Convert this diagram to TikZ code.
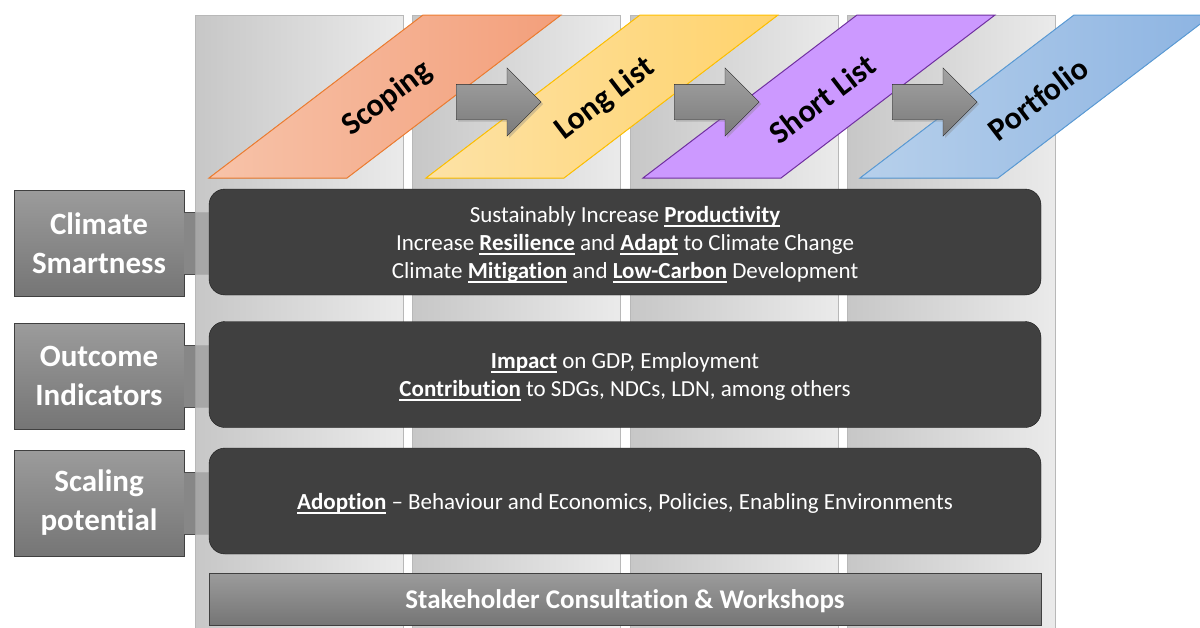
\documentclass[tikz,border=0pt]{standalone}
\usepackage{fontspec}
\setmainfont{Carlito}[Ligatures=NoCommon]
\usetikzlibrary{shapes.arrows,shadows}

\definecolor{boxdark}{HTML}{404040}
\definecolor{scopeline}{HTML}{ED7D31}
\definecolor{scopelight}{HTML}{F7C3A9}
\definecolor{scopedeep}{HTML}{F39F7B}
\definecolor{longline}{HTML}{FFC000}
\definecolor{longlight}{HTML}{FDE2A6}
\definecolor{longdeep}{HTML}{FFD36C}
\definecolor{shortline}{HTML}{7030A0}
\definecolor{shortfill}{HTML}{CC99FF}
\definecolor{portline}{HTML}{5B9BD5}
\definecolor{portlight}{HTML}{B7D0EB}
\definecolor{portdeep}{HTML}{8DB4E2}

% bold keyword with a heavy underline
\newsavebox\kwbox
\newcommand{\kw}[1]{\sbox\kwbox{\textbf{#1}}\rlap{\rule[-4.5pt]{\wd\kwbox}{1.6pt}}\usebox\kwbox}

\tikzset{
  linkbar/.style={line width=1pt, draw=black!70, double=black!47, double distance=61pt},
  stagelabel/.style={rotate=37.3, font=\bfseries\fontsize{32}{36}\selectfont, inner sep=0pt}
}

\begin{document}
\begin{tikzpicture}[x=1pt,y=-1pt]
    \useasboundingbox (0,0) rectangle (1200,627);
    \clip (0,0) rectangle (1200,627);
    % four phase columns
    \begin{scope}[every node/.style={draw=black!28, left color=black!22, right color=black!8,
        minimum width=208pt, minimum height=640pt, anchor=north west, inner sep=0pt}]
    \node (col1) at (195,15) {};
    \node (col2) at (412,15) {};
    \node (col3) at (630,15) {};
    \node (col4) at (847,15) {};
    \end{scope}
    % row labels
    \begin{scope}[every node/.style={draw=black!75, top color=black!39, bottom color=black!54,
        text=white, font=\bfseries\fontsize{31}{39}\selectfont, align=center,
        minimum width=170pt, minimum height=106pt, inner sep=0pt}]
    \node (cs) at (99,243) {Climate\\Smartness};
    \node (oi) at (99,376) {Outcome\\Indicators};
    \node (sp) at (99,503) {Scaling\\potential};
    \end{scope}
    % row contents
    \begin{scope}[every node/.style={rounded corners=16pt, draw=black!90, fill=boxdark,
        text=white, font=\fontsize{23}{28}\selectfont, align=center, text depth=0pt,
        minimum width=832pt, minimum height=106pt, inner sep=0pt}]
    \node (csbox) at (625,242) {Sustainably Increase \kw{Productivity}\\
        Increase \kw{Resilience} and \kw{Adapt} to Climate Change\\
        Climate \kw{Mitigation} and \kw{Low-Carbon} Development};
    \node (oibox) at (625,374.5) {\kw{Impact} on GDP, Employment\\
        \kw{Contribution} to SDGs, NDCs, LDN, among others};
    \node (spbox) at (625,501) {\kw{Adoption} -- Behaviour and Economics, Policies, Enabling Environments};
    \end{scope}
    \node[draw=black!75, top color=black!39, bottom color=black!54, minimum width=832pt,
        minimum height=52pt, inner sep=0pt, text=white, text depth=0pt,
        font=\bfseries\fontsize{27}{30}\selectfont] (stake) at (625,599) {Stakeholder Consultation \& Workshops};
    % links from labels to rows
    \draw[linkbar] (cs.east) -- (cs.east -| col1.west);
    \draw[linkbar, opacity=.2] (cs.east -| col1.west) -- (cs.east -| csbox.west);
    \draw[linkbar] (oi.east) -- (oi.east -| col1.west);
    \draw[linkbar, opacity=.2] (oi.east -| col1.west) -- (oi.east -| oibox.west);
    \draw[linkbar] (sp.east) -- (sp.east -| col1.west);
    \draw[linkbar, opacity=.2] (sp.east -| col1.west) -- (sp.east -| spbox.west);
    % slanted phase banners
    \begin{scope}[line width=1pt]
    \filldraw[draw=scopeline, left color=scopelight, right color=scopedeep]
        (209,178) -- ++(138,0) -- ++(214,-163) -- ++(-138,0) -- cycle;
    \filldraw[draw=longline, left color=longlight, right color=longdeep]
        (426,178) -- ++(138,0) -- ++(214,-163) -- ++(-138,0) -- cycle;
    \filldraw[draw=shortline, fill=shortfill]
        (643,178) -- ++(138,0) -- ++(214,-163) -- ++(-138,0) -- cycle;
    \filldraw[draw=portline, left color=portlight, right color=portdeep]
        (860,178) -- ++(138,0) -- ++(214,-163) -- ++(-138,0) -- cycle;
    \end{scope}
    \node[stagelabel] (scoping) at (387,99) {Scoping};
    \node[stagelabel] (longlist) at (605,99) {Long List};
    \node[stagelabel] (shortlist) at (822,99) {Short List};
    \node[stagelabel] (portfolio) at (1038,99) {Portfolio};
    % step arrows
    \begin{scope}[every node/.style={single arrow, draw=black!85, top color=black!36, bottom color=black!52,
        minimum height=85pt, inner xsep=0pt, inner ysep=17.5pt, single arrow head extend=16.5pt,
        anchor=tail, drop shadow={opacity=.35, shadow xshift=2pt, shadow yshift=-2pt}}]
    \node (arrA) at (456,102) {};
    \node (arrB) at (674,102) {};
    \node (arrC) at (892,102) {};
    \end{scope}
\end{tikzpicture}
\end{document}
